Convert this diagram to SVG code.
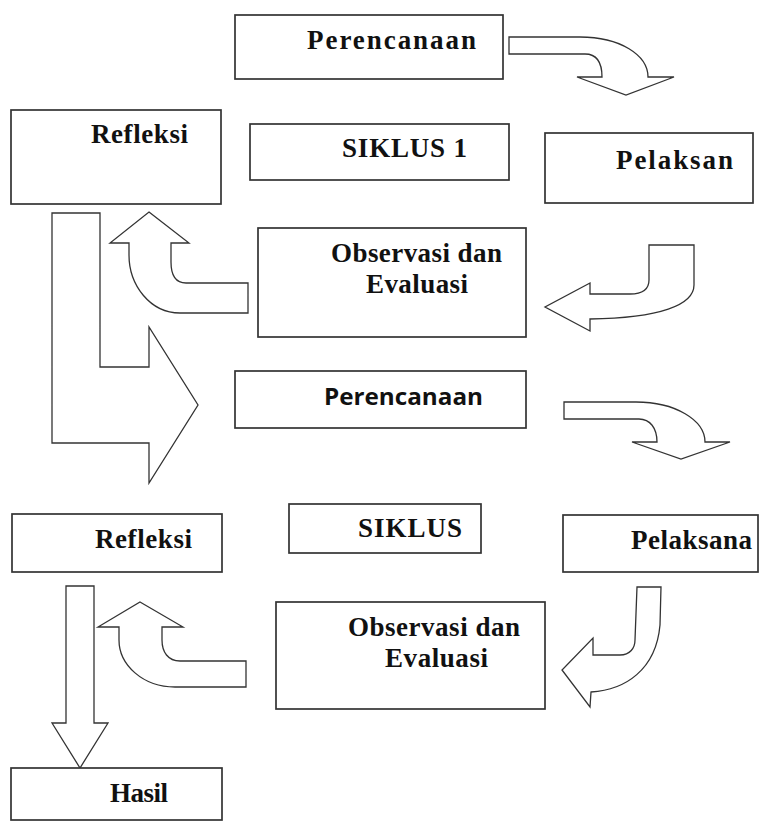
<svg xmlns="http://www.w3.org/2000/svg" width="763" height="822" viewBox="0 0 763 822">
<style>
.box{fill:#fff;stroke:#333;stroke-width:1.7}
.arr{fill:#fff;stroke:#333;stroke-width:1.3;stroke-linejoin:miter}
.t{font-family:"Liberation Serif","Times New Roman",serif;font-weight:bold;font-size:27px;fill:#111}
.s{font-family:"Open Sans","Liberation Sans",Arial,sans-serif;font-weight:bold;font-size:24px;fill:#111}
</style>
<rect width="763" height="822" fill="#fff"/>
<g id="connectors">
<path class="arr" d="M509,37 L580,37 C620,37 648,55 648,77 L674,77 L626,95 L577,77 L602,77 C602,62 596,54 585,54 L509,54 Z"/>
<path class="arr" d="M564,402 L636,402 C675,402 705,420 705,442 L730,442 L681,459 L632,442 L657,442 C657,428 650,419 639,419 L564,419 Z"/>
<path class="arr" d="M649,245 L694,245 L694,285 C694,305 660,318 590,319 L590,331 L545,307 L590,283 L590,294 L630,294 C644,294 649,289 649,280 Z"/>
<path class="arr" d="M637,587 L661,587 L660,625 C656,670 625,690 591,692 L590,707 L562,670 L593,638 L593,655 L620,655 C630,655 635,648 635,640 Z"/>
<path class="arr" d="M149,212 L189,243 L171,243 L171,262 C171,276 176,283 186,283 L248,283 L248,313 L180,313 C150,313 129,285 129,255 L129,243 L110,243 Z"/>
<path class="arr" d="M140,602 L183,627 L162,627 L162,640 C162,652 168,661 180,661 L246,661 L246,687 L175,687 C143,687 119,665 119,640 L119,627 L98,627 Z"/>
<path class="arr" d="M52,213 L100,213 L100,367 L149,367 L149,327 L198,405 L149,483 L149,443 L52,443 Z"/>
<path class="arr" d="M66,586 L94,586 L94,723 L108,723 L80,768 L52,723 L66,723 Z"/>
</g>
<g id="perencanaan1"><rect class="box" x="235" y="15" width="268" height="64"/><text class="t" x="307" y="49" textLength="169" lengthAdjust="spacing">Perencanaan</text></g>
<g id="siklus1"><rect class="box" x="250" y="124" width="259" height="56"/><text class="t" x="342" y="157" textLength="125" lengthAdjust="spacing">SIKLUS 1</text></g>
<g id="pelaksan"><rect class="box" x="545" y="133" width="208" height="70"/><text class="t" x="616" y="169" textLength="117" lengthAdjust="spacing">Pelaksan</text></g>
<g id="refleksi1"><rect class="box" x="11" y="110" width="210" height="94"/><text class="t" x="91" y="143" textLength="97" lengthAdjust="spacing">Refleksi</text></g>
<g id="observasi1"><rect class="box" x="258" y="228" width="268" height="109"/><text class="t" x="331" y="262" textLength="171" lengthAdjust="spacing">Observasi dan</text><text class="t" x="366" y="293" textLength="102" lengthAdjust="spacing">Evaluasi</text></g>
<g id="perencanaan2"><rect class="box" x="235" y="371" width="291" height="57"/><text class="s" x="324" y="405" textLength="159" lengthAdjust="spacingAndGlyphs">Perencanaan</text></g>
<g id="refleksi2"><rect class="box" x="12" y="514" width="210" height="58"/><text class="t" x="95" y="548" textLength="97" lengthAdjust="spacing">Refleksi</text></g>
<g id="siklus2"><rect class="box" x="289" y="504" width="192" height="49"/><text class="t" x="358" y="537" textLength="104" lengthAdjust="spacing">SIKLUS</text></g>
<g id="pelaksana"><rect class="box" x="563" y="515" width="195" height="57"/><text class="t" x="631" y="549" textLength="121" lengthAdjust="spacing">Pelaksana</text></g>
<g id="observasi2"><rect class="box" x="276" y="602" width="269" height="107"/><text class="t" x="348" y="636" textLength="172" lengthAdjust="spacing">Observasi dan</text><text class="t" x="385" y="667" textLength="103" lengthAdjust="spacing">Evaluasi</text></g>
<g id="hasil"><rect class="box" x="11" y="768" width="211" height="52"/><text class="t" x="110" y="802" textLength="58" lengthAdjust="spacing">Hasil</text></g>
</svg>
